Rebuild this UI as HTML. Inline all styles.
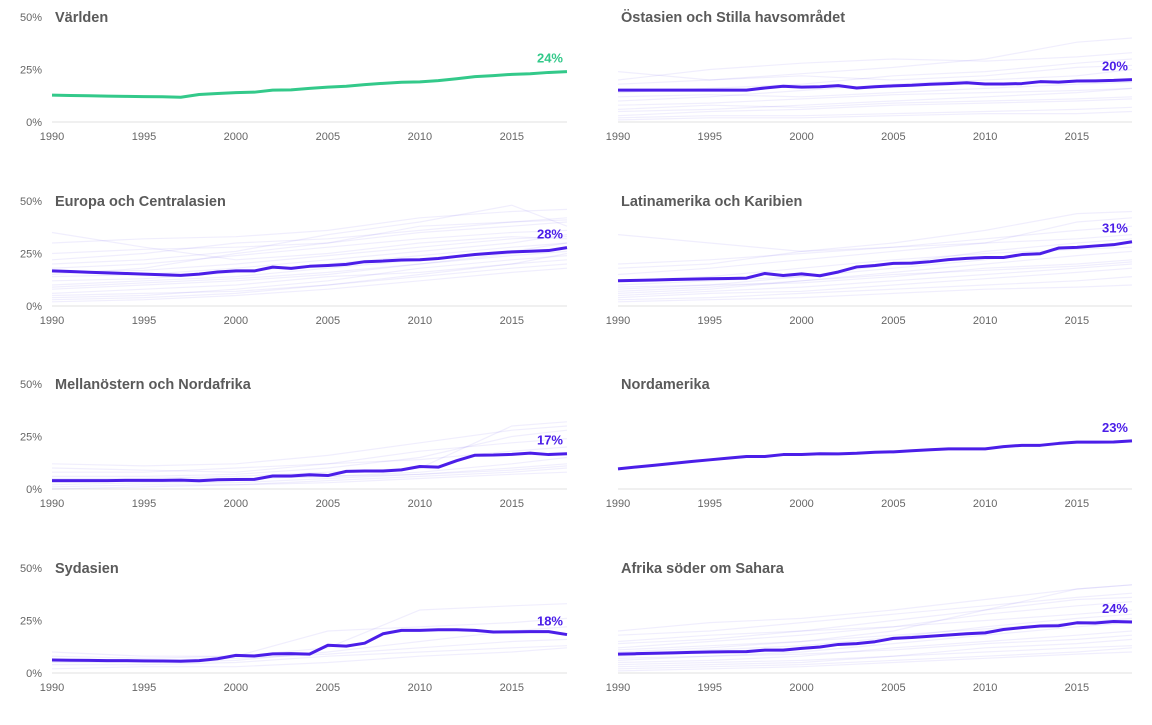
<!DOCTYPE html>
<html><head><meta charset="utf-8">
<style>
body{margin:0;background:#fff;width:1152px;height:720px;overflow:hidden;font-family:"Liberation Sans",sans-serif}
svg text{font-family:"Liberation Sans",sans-serif}
</style></head>
<body>
<svg id="chart" width="1152" height="720" xmlns="http://www.w3.org/2000/svg"></svg>
<script>
const years=[1990,1991,1992,1993,1994,1995,1996,1997,1998,1999,2000,2001,2002,2003,2004,2005,2006,2007,2008,2009,2010,2011,2012,2013,2014,2015,2016,2017,2018];
const bgYears=[1990,1995,2000,2005,2010,2015,2018];
const tickYears=[1990,1995,2000,2005,2010,2015];
const yTicks=[0,25,50];
const titles=["Världen","Östasien och Stilla havsområdet","Europa och Centralasien","Latinamerika och Karibien","Mellanöstern och Nordafrika","Nordamerika","Sydasien","Afrika söder om Sahara"];
const sWorld=[12.8,12.6,12.5,12.3,12.2,12.1,12.0,11.8,13.1,13.6,14.0,14.2,15.2,15.3,16.0,16.6,17.0,17.8,18.4,18.9,19.1,19.7,20.6,21.6,22.1,22.7,23.0,23.6,24.0];
const sEastAsia=[15.2,15.2,15.2,15.2,15.2,15.2,15.2,15.2,16.2,17.0,16.6,16.8,17.3,16.2,16.8,17.2,17.5,18.0,18.3,18.7,18.1,18.1,18.3,19.2,19.0,19.5,19.6,19.8,20.2];
const sEurope=[16.7,16.4,16.1,15.8,15.5,15.2,14.9,14.6,15.2,16.2,16.7,16.7,18.5,17.9,18.9,19.3,19.8,21.1,21.4,21.9,22.0,22.6,23.6,24.5,25.2,25.8,26.1,26.4,27.8];
const sLatam=[12.0,12.2,12.4,12.6,12.8,13.0,13.1,13.3,15.5,14.5,15.3,14.4,16.2,18.6,19.3,20.3,20.4,21.1,22.1,22.7,23.1,23.1,24.5,24.9,27.6,27.9,28.6,29.2,30.6];
const sMena=[4.0,4.0,4.0,4.0,4.1,4.1,4.1,4.2,3.9,4.4,4.5,4.6,6.2,6.2,6.8,6.4,8.4,8.6,8.6,9.1,10.7,10.4,13.5,16.1,16.2,16.5,17.1,16.4,16.8];
const sNorthAm=[9.6,10.5,11.3,12.2,13.1,13.9,14.7,15.5,15.5,16.4,16.4,16.8,16.7,17.0,17.5,17.7,18.2,18.7,19.1,19.1,19.1,20.2,20.8,20.8,21.7,22.3,22.3,22.4,22.9];
const sSouthAsia=[6.2,6.1,6.0,5.9,5.9,5.8,5.7,5.6,5.9,6.8,8.4,8.1,9.1,9.2,9.0,13.2,12.8,14.2,18.7,20.3,20.3,20.6,20.6,20.3,19.5,19.6,19.7,19.7,18.3];
const sAfrica=[9.0,9.2,9.4,9.6,9.8,10.0,10.1,10.2,10.9,10.9,11.7,12.4,13.6,14.0,14.9,16.5,16.9,17.5,18.1,18.7,19.1,20.7,21.6,22.4,22.5,23.9,23.8,24.5,24.3];
const endLabels=["24%","20%","28%","31%","17%","23%","18%","24%"];
const bgEastAsia=[[24,20,22,20,22,26,27],[5,6,8,10,12,14,16],[2,3,3,4,5,6,7],[20,25,28,30,29,31,33],[10,12,15,18,20,22,25],[6,8,7,9,10,11,12],[1,2,2,3,4,4,5],[14,16,18,22,24,28,30],[8,9,11,13,14,15,16],[3,5,6,8,9,10,11],[18,20,23,26,30,38,40],[12,13,12,14,16,18,19]];
const bgEurope=[[35,28,22,25,30,33,32],[8,10,12,15,20,25,28],[4,5,8,12,18,22,24],[22,25,30,32,36,40,42],[15,18,25,30,35,38,40],[10,12,14,18,22,26,30],[2,3,5,8,12,16,18],[30,32,33,36,42,45,46],[6,8,10,14,16,20,22],[12,13,16,20,24,28,30],[18,20,24,28,32,35,36],[5,6,7,10,14,18,20],[25,27,28,30,38,40,41],[3,4,6,10,15,20,25],[20,22,26,34,40,48,38],[14,15,18,22,26,30,34],[9,11,13,16,20,24,26],[16,17,20,24,28,32,33]];
const bgLatam=[[34,30,26,28,32,36,38],[5,7,9,12,15,18,20],[10,12,14,18,22,28,30],[15,18,22,26,30,40,42],[3,4,6,8,10,12,14],[8,10,14,20,26,30,32],[12,14,18,22,25,27,28],[2,3,4,6,8,9,10],[6,8,12,16,20,24,26],[18,20,26,30,36,44,45],[9,10,11,14,18,20,22],[4,6,7,10,13,16,18],[20,22,25,28,30,32,34],[7,9,12,15,17,19,21]];
const bgMena=[[10,9,8,12,14,18,20],[2,3,3,5,7,10,12],[6,6,7,10,15,25,28],[1,2,2,3,5,7,8],[8,8,10,12,18,22,24],[3,4,5,6,8,12,15],[5,5,6,8,10,30,32],[0,1,2,4,6,8,10],[12,11,12,16,22,28,30],[4,4,5,6,7,9,11]];
const bgSouthAsia=[[10,8,8,20,22,24,26],[5,5,6,10,15,20,22],[2,3,3,5,8,10,12],[8,7,8,12,30,32,33],[4,4,5,8,10,12,13],[6,6,7,9,12,15,16]];
const bgAfrica=[[15,18,20,22,25,28,30],[5,6,8,12,15,18,20],[10,12,15,20,30,40,42],[2,3,4,6,8,10,12],[8,10,12,16,20,24,26],[12,15,18,22,28,32,34],[20,24,26,30,35,40,42],[3,4,5,8,12,14,16],[6,8,10,14,18,22,24],[18,20,24,28,32,36,38],[4,5,6,8,10,12,13],[9,11,13,17,22,26,28],[14,16,20,25,30,35,36],[1,2,3,5,7,9,10],[11,13,15,18,21,24,25],[7,8,9,11,14,16,18]];
const mainSeries=[sWorld,sEastAsia,sEurope,sLatam,sMena,sNorthAm,sSouthAsia,sAfrica];
const bgSeries=[[],bgEastAsia,bgEurope,bgLatam,bgMena,[],bgSouthAsia,bgAfrica];

const NS="http://www.w3.org/2000/svg";
const svg=document.getElementById('chart');
function mk(tag,attrs,parent){const e=document.createElementNS(NS,tag);for(const k in attrs)e.setAttribute(k,attrs[k]);(parent||svg).appendChild(e);return e;}
const colX=[52,618], colW=[515,514];
const rowBase=[122,306,489,673];
const pxPerPct=2.1;
titles.forEach((t,i)=>{
  const col=i%2,row=Math.floor(i/2);
  const x0=colX[col],w=colW[col],base=rowBase[row];
  const xs=y=>x0+(y-1990)/(2018-1990)*w;
  const ys=v=>base-v*pxPerPct;
  const g=mk('g',{});
  
  
  const bl=mk('line',{x1:x0,x2:x0+w,y1:base,y2:base,stroke:'#e2e2e2','stroke-width':1},g);
  
  
  if(col===0){
    yTicks.forEach(v=>{
      const tx=mk('text',{x:42,y:ys(v)+4,'text-anchor':'end','font-size':11,fill:'#666'},g);
      tx.textContent=v+'%';
      
      
    });
  }
  tickYears.forEach(y=>{
    const tx=mk('text',{x:xs(y),y:base+18,'text-anchor':'middle','font-size':11,fill:'#666'},g);
    tx.textContent=y;
    
    
  });
  const tt=mk('text',{x:x0+3,y:ys(50)+5,'font-size':14.5,'font-weight':'bold',fill:'#5a5a5a'},g);
  tt.textContent=t;
  
  
  bgSeries[i].forEach(s=>{
    const p=mk('polyline',{points:s.map((v,k)=>xs(bgYears[k])+','+ys(v)).join(' '),fill:'none',stroke:'#6a55e8','stroke-opacity':0.1,'stroke-width':1.2},g);
    
    
  });
  const color=i===0?'#33c98a':'#4b1ee8';
  const s=mainSeries[i];
  const ml=mk('polyline',{points:s.map((v,k)=>xs(years[k])+','+ys(v)).join(' '),fill:'none',stroke:color,'stroke-width':3,'stroke-linejoin':'round'},g);
  
  
  const el=mk('text',{x:x0+w-4,y:ys(s[s.length-1])-9,'text-anchor':'end','font-size':13,'font-weight':'bold',fill:color},g);
  el.textContent=endLabels[i];
  
  
});
</script>
</body></html>
